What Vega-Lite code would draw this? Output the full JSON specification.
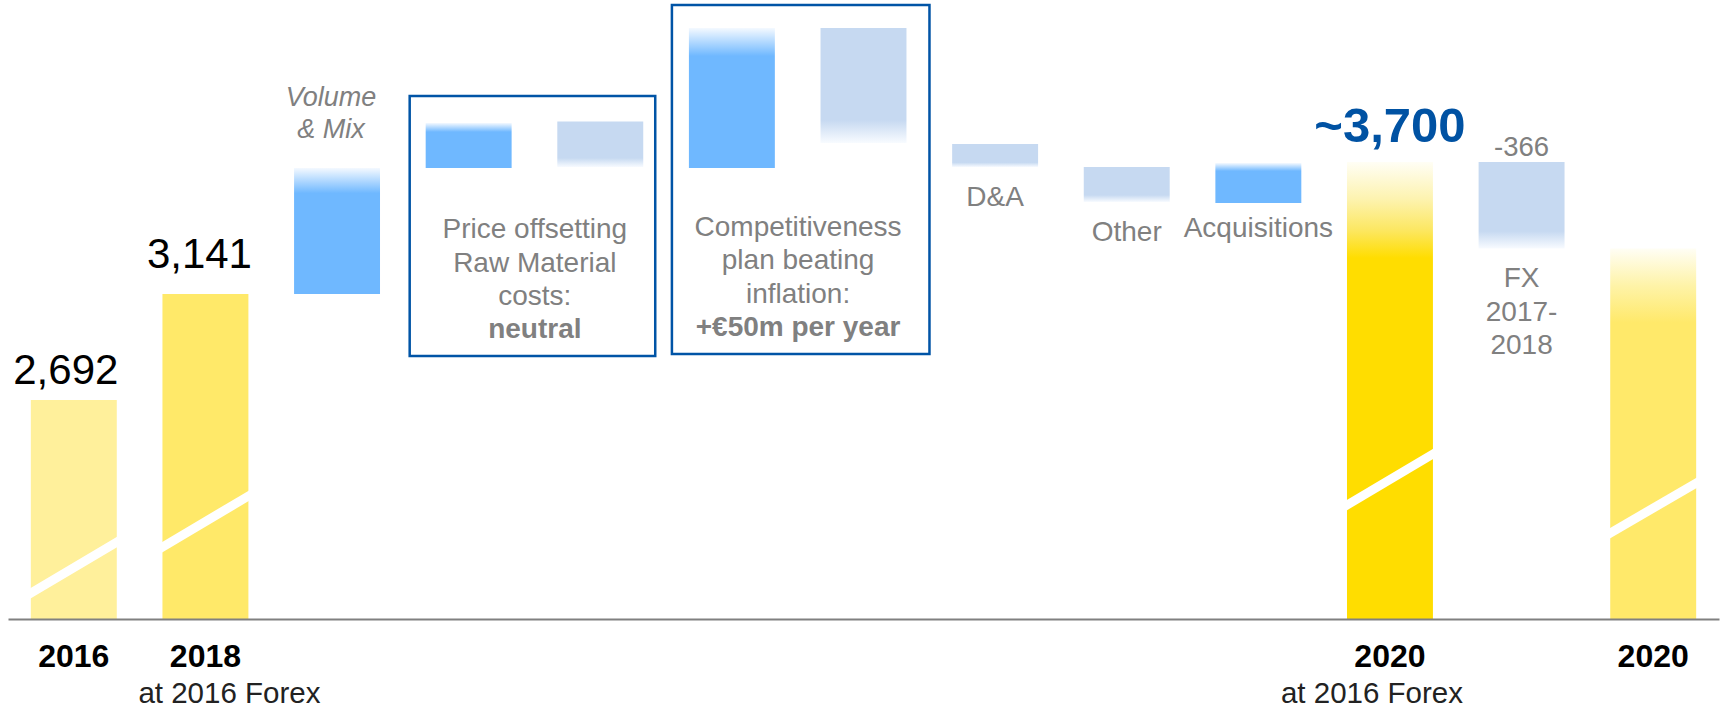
{
  "$schema": "https://vega.github.io/schema/vega-lite/v6.json",
  "width": 1711,
  "height": 619,
  "autosize": {"type": "none"},
  "padding": {"left": 8, "right": 12, "top": 0, "bottom": 89},
  "background": "#ffffff",
  "config": {
    "view": {"stroke": null},
    "font": "Liberation Sans",
    "axisX": {"labels": false, "ticks": false, "grid": false, "domainColor": "#808080", "domainWidth": 2}
  },
  "datasets": {
    "steps": [
      {"step": "2016", "kind": "total", "end": 2692, "display": "2,692", "year": "2016"},
      {"step": "2018", "kind": "total", "end": 3141, "display": "3,141", "year": "2018", "sub": "at 2016 Forex"},
      {"step": "Volume & Mix", "kind": "increase", "start": 3141, "end": 3675, "label": "Volume\n& Mix"},
      {"step": "Price +", "kind": "increase", "start": 3675, "end": 3866},
      {"step": "Price −", "kind": "decrease", "start": 3872, "end": 3679},
      {"step": "Competitiveness +", "kind": "increase", "start": 3675, "end": 4268},
      {"step": "Competitiveness −", "kind": "decrease", "start": 4268, "end": 3781},
      {"step": "D&A", "kind": "decrease", "start": 3777, "end": 3679, "label": "D&A"},
      {"step": "Other", "kind": "decrease", "start": 3679, "end": 3531, "label": "Other"},
      {"step": "Acquisitions", "kind": "increase", "start": 3527, "end": 3696, "label": "Acquisitions"},
      {"step": "2020 at 2016 Forex", "kind": "total", "end": 3700, "display": "~3,700", "year": "2020", "sub": "at 2016 Forex"},
      {"step": "FX 2017-2018", "kind": "decrease", "start": 3700, "end": 3334, "display": "-366", "label": "FX\n2017-\n2018"},
      {"step": "2020", "kind": "total", "end": 3334, "year": "2020"}
    ],
    "slashes": [
      {"step": "2016", "lo": 1874, "hi": 2090},
      {"step": "2018", "lo": 2069, "hi": 2285},
      {"step": "2020 at 2016 Forex", "lo": 2247, "hi": 2463},
      {"step": "2020", "lo": 2128, "hi": 2340}
    ],
    "boxes": [
      {"from": "Price +", "to": "Price −", "top": 3980, "bottom": 2878, "text": "Price offsetting\nRaw Material\ncosts:", "bold": "neutral"},
      {"from": "Competitiveness +", "to": "Competitiveness −", "top": 4366, "bottom": 2887, "text": "Competitiveness\nplan beating\ninflation:", "bold": "+€50m per year"}
    ]
  },
  "layer": [
    {
      "data": {"name": "boxes"},
      "transform": [{"filter": "datum.from === 'Price +'"}],
      "mark": {"type": "rect", "fill": "transparent", "stroke": "#0054A6", "strokeWidth": 2.5, "xOffset": -16, "x2Offset": 12},
      "encoding": {
        "x": {"field": "from", "type": "nominal", "bandPosition": 0, "title": null,
              "scale": {"domain": ["2016", "2018", "Volume & Mix", "Price +", "Price −", "Competitiveness +", "Competitiveness −", "D&A", "Other", "Acquisitions", "2020 at 2016 Forex", "FX 2017-2018", "2020"], "paddingInner": 0.347, "paddingOuter": 0.1735}},
        "x2": {"field": "to", "bandPosition": 1},
        "y": {"field": "top", "type": "quantitative", "axis": null, "scale": {"domain": [1764, 4387], "zero": false, "nice": false}},
        "y2": {"field": "bottom"}
      }
    },
    {
      "data": {"name": "boxes"},
      "transform": [{"filter": "datum.from === 'Competitiveness +'"}],
      "mark": {"type": "rect", "fill": "transparent", "stroke": "#0054A6", "strokeWidth": 2.5, "xOffset": -17, "x2Offset": 23},
      "encoding": {
        "x": {"field": "from", "type": "nominal", "bandPosition": 0, "title": null},
        "x2": {"field": "to", "bandPosition": 1},
        "y": {"field": "top", "type": "quantitative", "axis": null},
        "y2": {"field": "bottom"}
      }
    },
    {
      "data": {"name": "steps"},
      "transform": [{"filter": "datum.step === '2016'"}],
      "mark": {"type": "bar", "color": "#FFF09B"},
      "encoding": {
        "x": {"field": "step", "type": "nominal", "title": null},
        "y": {"field": "end", "type": "quantitative", "axis": null},
        "y2": {"datum": 1764}
      }
    },
    {
      "data": {"name": "steps"},
      "transform": [{"filter": "datum.step === '2018'"}],
      "mark": {"type": "bar", "color": "#FFE969"},
      "encoding": {
        "x": {"field": "step", "type": "nominal", "title": null},
        "y": {"field": "end", "type": "quantitative", "axis": null},
        "y2": {"datum": 1764}
      }
    },
    {
      "data": {"name": "steps"},
      "transform": [{"filter": "datum.step === '2020 at 2016 Forex'"}],
      "mark": {"type": "bar", "color": {"gradient": "linear", "x1": 0, "y1": 0, "x2": 0, "y2": 1, "stops": [
        {"offset": 0, "color": "#FFFEF5"}, {"offset": 0.08, "color": "#FDF3B0"}, {"offset": 0.15, "color": "#FCE760"}, {"offset": 0.21, "color": "#FFDD00"}, {"offset": 1, "color": "#FFDD00"}]}},
      "encoding": {
        "x": {"field": "step", "type": "nominal", "title": null},
        "y": {"field": "end", "type": "quantitative", "axis": null},
        "y2": {"datum": 1764}
      }
    },
    {
      "data": {"name": "steps"},
      "transform": [{"filter": "datum.step === '2020'"}],
      "mark": {"type": "bar", "color": {"gradient": "linear", "x1": 0, "y1": 0, "x2": 0, "y2": 1, "stops": [
        {"offset": 0, "color": "#FFFEF5"}, {"offset": 0.1, "color": "#FEF3A8"}, {"offset": 0.2, "color": "#FFE96A"}, {"offset": 1, "color": "#FFE96A"}]}},
      "encoding": {
        "x": {"field": "step", "type": "nominal", "title": null},
        "y": {"field": "end", "type": "quantitative", "axis": null},
        "y2": {"datum": 1764}
      }
    },
    {
      "data": {"name": "steps"},
      "transform": [{"filter": "datum.kind === 'increase'"}],
      "mark": {"type": "bar", "color": {"gradient": "linear", "x1": 0, "y1": 0, "x2": 0, "y2": 1, "stops": [
        {"offset": 0, "color": "#F4F9FF"}, {"offset": 0.2, "color": "#6FB8FF"}, {"offset": 1, "color": "#6FB8FF"}]}},
      "encoding": {
        "x": {"field": "step", "type": "nominal", "title": null},
        "y": {"field": "end", "type": "quantitative", "axis": null},
        "y2": {"field": "start"}
      }
    },
    {
      "data": {"name": "steps"},
      "transform": [{"filter": "datum.kind === 'decrease'"}],
      "mark": {"type": "bar", "color": {"gradient": "linear", "x1": 0, "y1": 0, "x2": 0, "y2": 1, "stops": [
        {"offset": 0, "color": "#C6D9F1"}, {"offset": 0.8, "color": "#C6D9F1"}, {"offset": 1, "color": "#F8FBFF"}]}},
      "encoding": {
        "x": {"field": "step", "type": "nominal", "title": null},
        "y": {"field": "start", "type": "quantitative", "axis": null},
        "y2": {"field": "end"}
      }
    },
    {
      "data": {"name": "slashes"},
      "mark": {"type": "rule", "color": "#FFFFFF", "strokeWidth": 9, "strokeCap": "square"},
      "encoding": {
        "x": {"field": "step", "type": "nominal", "bandPosition": 0, "title": null},
        "x2": {"field": "step", "bandPosition": 1},
        "y": {"field": "lo", "type": "quantitative", "axis": null},
        "y2": {"field": "hi"}
      }
    },
    {
      "data": {"name": "boxes"},
      "mark": {"type": "text", "font": "Liberation Sans", "fontSize": 28, "color": "#808080", "lineBreak": "\n", "lineHeight": 33.5, "align": "center", "baseline": "alphabetic", "dy": -118},
      "encoding": {
        "x": {"field": "from", "type": "nominal", "bandPosition": 1.27, "title": null},
        "y": {"field": "bottom", "type": "quantitative", "axis": null},
        "text": {"field": "text"}
      }
    },
    {
      "data": {"name": "boxes"},
      "mark": {"type": "text", "font": "Liberation Sans", "fontSize": 28, "fontWeight": "bold", "color": "#808080", "align": "center", "baseline": "alphabetic", "dy": -18},
      "encoding": {
        "x": {"field": "from", "type": "nominal", "bandPosition": 1.27, "title": null},
        "y": {"field": "bottom", "type": "quantitative", "axis": null},
        "text": {"field": "bold"}
      }
    },
    {
      "data": {"name": "steps"},
      "transform": [{"filter": "datum.step === '2016'"}],
      "mark": {"type": "text", "font": "Liberation Sans", "fontSize": 42, "color": "#000000", "align": "center", "baseline": "alphabetic", "dy": -16, "dx": -8},
      "encoding": {
        "x": {"field": "step", "type": "nominal", "title": null},
        "y": {"field": "end", "type": "quantitative", "axis": null},
        "text": {"field": "display"}
      }
    },
    {
      "data": {"name": "steps"},
      "transform": [{"filter": "datum.step === '2018'"}],
      "mark": {"type": "text", "font": "Liberation Sans", "fontSize": 42, "color": "#000000", "align": "center", "baseline": "alphabetic", "dy": -26, "dx": -6},
      "encoding": {
        "x": {"field": "step", "type": "nominal", "title": null},
        "y": {"field": "end", "type": "quantitative", "axis": null},
        "text": {"field": "display"}
      }
    },
    {
      "data": {"name": "steps"},
      "transform": [{"filter": "datum.step === '2020 at 2016 Forex'"}],
      "mark": {"type": "text", "font": "Liberation Sans", "fontSize": 49, "fontWeight": "bold", "color": "#0052A3", "align": "center", "baseline": "alphabetic", "dy": -20},
      "encoding": {
        "x": {"field": "step", "type": "nominal", "title": null},
        "y": {"field": "end", "type": "quantitative", "axis": null},
        "text": {"field": "display"}
      }
    },
    {
      "data": {"name": "steps"},
      "transform": [{"filter": "datum.step === 'FX 2017-2018'"}],
      "mark": {"type": "text", "font": "Liberation Sans", "fontSize": 27.5, "color": "#808080", "align": "center", "baseline": "alphabetic", "dy": -6},
      "encoding": {
        "x": {"field": "step", "type": "nominal", "title": null},
        "y": {"field": "start", "type": "quantitative", "axis": null},
        "text": {"field": "display"}
      }
    },
    {
      "data": {"name": "steps"},
      "transform": [{"filter": "datum.step === 'Volume & Mix'"}],
      "mark": {"type": "text", "font": "Liberation Sans", "fontSize": 27, "fontStyle": "italic", "color": "#808080", "lineBreak": "\n", "lineHeight": 32, "align": "center", "baseline": "alphabetic", "dy": -62, "dx": -6},
      "encoding": {
        "x": {"field": "step", "type": "nominal", "title": null},
        "y": {"field": "end", "type": "quantitative", "axis": null},
        "text": {"field": "label"}
      }
    },
    {
      "data": {"name": "steps"},
      "transform": [{"filter": "datum.kind === 'decrease' && isValid(datum.label)"}],
      "mark": {"type": "text", "font": "Liberation Sans", "fontSize": 28, "color": "#808080", "lineBreak": "\n", "lineHeight": 33.5, "align": "center", "baseline": "alphabetic", "dy": 39},
      "encoding": {
        "x": {"field": "step", "type": "nominal", "title": null},
        "y": {"field": "end", "type": "quantitative", "axis": null},
        "text": {"field": "label"}
      }
    },
    {
      "data": {"name": "steps"},
      "transform": [{"filter": "datum.step === 'Acquisitions'"}],
      "mark": {"type": "text", "font": "Liberation Sans", "fontSize": 28, "color": "#808080", "align": "center", "baseline": "alphabetic", "dy": 34},
      "encoding": {
        "x": {"field": "step", "type": "nominal", "title": null},
        "y": {"field": "start", "type": "quantitative", "axis": null},
        "text": {"field": "label"}
      }
    },
    {
      "data": {"name": "steps"},
      "transform": [{"filter": "datum.kind === 'total'"}],
      "mark": {"type": "text", "font": "Liberation Sans", "fontSize": 32, "fontWeight": "bold", "color": "#000000", "align": "center", "baseline": "alphabetic", "dy": 48},
      "encoding": {
        "x": {"field": "step", "type": "nominal", "title": null},
        "y": {"datum": 1764, "type": "quantitative", "axis": null},
        "text": {"field": "year"}
      }
    },
    {
      "data": {"name": "steps"},
      "transform": [{"filter": "datum.step === '2018'"}],
      "mark": {"type": "text", "font": "Liberation Sans", "fontSize": 29.5, "color": "#222222", "align": "center", "baseline": "alphabetic", "dy": 84, "dx": 24},
      "encoding": {
        "x": {"field": "step", "type": "nominal", "title": null},
        "y": {"datum": 1764, "type": "quantitative", "axis": null},
        "text": {"field": "sub"}
      }
    },
    {
      "data": {"name": "steps"},
      "transform": [{"filter": "datum.step === '2020 at 2016 Forex'"}],
      "mark": {"type": "text", "font": "Liberation Sans", "fontSize": 29.5, "color": "#222222", "align": "center", "baseline": "alphabetic", "dy": 84, "dx": -18},
      "encoding": {
        "x": {"field": "step", "type": "nominal", "title": null},
        "y": {"datum": 1764, "type": "quantitative", "axis": null},
        "text": {"field": "sub"}
      }
    }
  ]
}
